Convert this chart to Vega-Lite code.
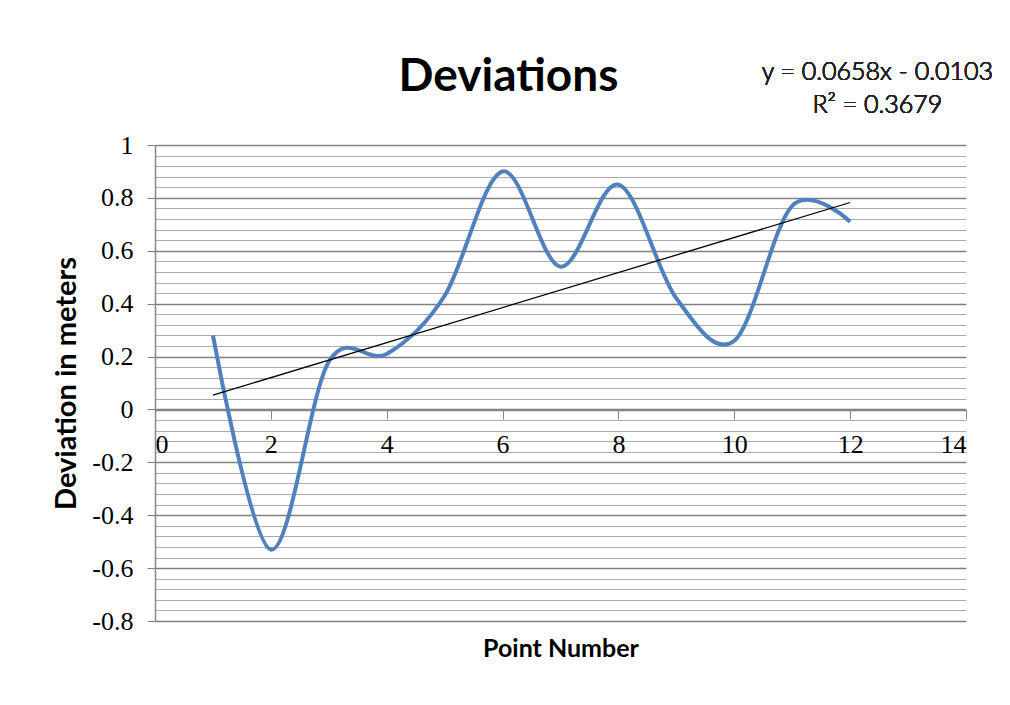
{
  "$schema": "https://vega.github.io/schema/vega-lite/v6.json",
  "autosize": "none",
  "width": 811,
  "height": 476,
  "padding": {"left": 155, "top": 145, "right": 44, "bottom": 84},
  "background": "white",
  "config": {"view": {"stroke": null}},
  "title": {
    "text": "Deviations",
    "font": "Lato",
    "fontWeight": "bold",
    "fontSize": 46,
    "color": "#000000",
    "anchor": "middle",
    "baseline": "alphabetic",
    "dx": -52,
    "offset": -77
  },
  "data": {
    "values": [
      {"point": 1, "deviation": 0.28},
      {"point": 2, "deviation": -0.53},
      {"point": 3, "deviation": 0.18},
      {"point": 4, "deviation": 0.21},
      {"point": 5, "deviation": 0.43},
      {"point": 6, "deviation": 0.9},
      {"point": 7, "deviation": 0.54},
      {"point": 8, "deviation": 0.85},
      {"point": 9, "deviation": 0.42},
      {"point": 10, "deviation": 0.26},
      {"point": 11, "deviation": 0.77},
      {"point": 12, "deviation": 0.71}
    ]
  },
  "encoding": {
    "x": {
      "field": "point",
      "type": "quantitative",
      "scale": {"domain": [0, 14], "nice": false, "zero": false},
      "axis": {
        "title": "Point Number",
        "values": [0, 2, 4, 6, 8, 10, 12, 14],
        "offset": -211,
        "grid": false,
        "domainColor": "#868686",
        "domainWidth": 1.5,
        "tickColor": "#868686",
        "tickSize": 9,
        "labelFont": "Liberation Serif",
        "labelFontSize": 26,
        "labelColor": "#000000",
        "labelPadding": 12,
        "labelOverlap": false,
        "titleFont": "Lato",
        "titleFontWeight": "bold",
        "titleFontSize": 25,
        "titleColor": "#000000",
        "titleY": 238,
        "titleBaseline": "middle"
      }
    },
    "y": {
      "field": "deviation",
      "type": "quantitative",
      "scale": {"domain": [-0.8, 1], "nice": false, "zero": false},
      "axis": {
        "title": "Deviation in meters",
        "values": [-0.8, -0.76, -0.72, -0.68, -0.64, -0.6, -0.56, -0.52, -0.48, -0.44, -0.4, -0.36, -0.32, -0.28, -0.24, -0.2, -0.16, -0.12, -0.08, -0.04, 0, 0.04, 0.08, 0.12, 0.16, 0.2, 0.24, 0.28, 0.32, 0.36, 0.4, 0.44, 0.48, 0.52, 0.56, 0.6, 0.64, 0.68, 0.72, 0.76, 0.8, 0.84, 0.88, 0.92, 0.96, 1],
        "labelExpr": "abs(datum.value*5 - round(datum.value*5)) < 0.01 ? '' + round(datum.value*10)/10 : ''",
        "labelOverlap": false,
        "grid": true,
        "gridColor": {"condition": {"test": "abs(datum.value*5 - round(datum.value*5)) < 0.01", "value": "#808080"}, "value": "#ababab"},
        "gridWidth": {"condition": {"test": "abs(datum.value*5 - round(datum.value*5)) < 0.01", "value": 1.5}, "value": 1},
        "tickSize": {"condition": {"test": "abs(datum.value*5 - round(datum.value*5)) < 0.01", "value": 8}, "value": 0},
        "tickColor": "#808080",
        "domainColor": "#868686",
        "domainWidth": 1.5,
        "labelFont": "Liberation Serif",
        "labelFontSize": 26,
        "labelColor": "#000000",
        "labelPadding": 14,
        "titleFont": "Lato",
        "titleFontWeight": "bold",
        "titleFontSize": 29,
        "titleColor": "#000000",
        "titleX": -89,
        "titleY": 238,
        "titleAngle": -90,
        "titleAlign": "center",
        "titleBaseline": "middle"
      }
    }
  },
  "layer": [
    {
      "mark": {"type": "line", "interpolate": "cardinal", "color": "#4F81BD", "strokeWidth": 4}
    },
    {
      "transform": [{"regression": "deviation", "on": "point", "extent": [1, 12]}],
      "mark": {"type": "line", "color": "#000000", "strokeWidth": 1.3}
    },
    {
      "mark": {"type": "text", "font": "Lato", "fontSize": 25, "fontWeight": 300, "color": "#222222", "align": "center", "baseline": "middle", "lineHeight": 33, "clip": false},
      "encoding": {
        "x": {"datum": 12.47},
        "y": {"datum": 1.277},
        "text": {"value": ["y = 0.0658x - 0.0103", "R² = 0.3679"]}
      }
    }
  ]
}
